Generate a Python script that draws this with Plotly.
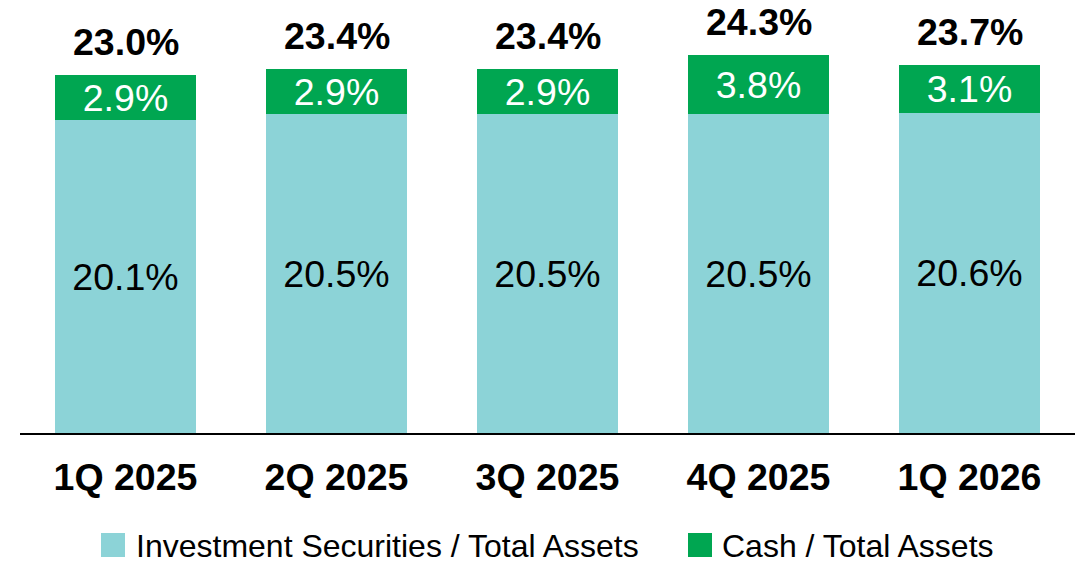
import plotly.graph_objects as go

categories = ["1Q 2025", "2Q 2025", "3Q 2025", "4Q 2025", "1Q 2026"]
investment = [20.1, 20.5, 20.5, 20.5, 20.6]
cash = [2.9, 2.9, 2.9, 3.8, 3.1]
totals = [23.0, 23.4, 23.4, 24.3, 23.7]
series_names = ["Investment Securities / Total Assets", "Cash / Total Assets"]

C_INV = "#8CD3D7"
C_CASH = "#00A651"
FONT = "Liberation Sans, Arial, sans-serif"
FS = 37.5

fig = go.Figure()
fig.add_trace(go.Bar(
    x=categories, y=investment, name=series_names[0], marker_color=C_INV,
    marker_line_width=0,
    text=[f"{v:.1f}%" for v in investment], textposition="inside",
    insidetextanchor="middle", textangle=0, constraintext="none",
    textfont=dict(family=FONT, size=FS, color="black"),
))
fig.add_trace(go.Bar(
    x=categories, y=cash, name=series_names[1], marker_color=C_CASH,
    marker_line_width=0,
    text=[f"{v:.1f}%" for v in cash], textposition="inside",
    insidetextanchor="middle", textangle=0, constraintext="none",
    textfont=dict(family=FONT, size=FS, color="white"),
))

for c, t in zip(categories, totals):
    fig.add_annotation(x=c, y=t, text=f"<b>{t:.1f}%</b>", showarrow=False,
                       yanchor="bottom", yshift=10,
                       font=dict(family=FONT, size=FS, color="black"))

# manual legend
W, H = 1082, 562
ml, mr, mt, mb = 20, 7, 0, 129
pw, ph = W - ml - mr, H - mt - mb

def px_x(x):
    return (x - ml) / pw

def px_y(y):
    return (H - mb - y) / ph

legend_items = [(101, 134, C_INV, series_names[0]), (688, 720, C_CASH, series_names[1])]
for sx, tx, col, name in legend_items:
    fig.add_shape(type="rect", xref="paper", yref="paper",
                  x0=px_x(sx), x1=px_x(sx + 24), y0=px_y(533), y1=px_y(557),
                  fillcolor=col, line_width=0)
    fig.add_annotation(xref="paper", yref="paper", x=px_x(tx), y=px_y(546),
                       xanchor="left", yanchor="middle", text=name, showarrow=False,
                       font=dict(family=FONT, size=32, color="black"))

fig.update_layout(
    width=W, height=H, barmode="stack", bargap=0.332,
    margin=dict(l=ml, r=mr, t=mt, b=mb),
    plot_bgcolor="white", paper_bgcolor="white", showlegend=False,
    uniformtext=dict(minsize=FS, mode="show"),
    font=dict(family=FONT),
)
fig.update_xaxes(showline=True, linecolor="black", linewidth=2, ticks="",
                 tickfont=dict(family=FONT, size=FS, color="black", weight="bold"),
                 ticklabelstandoff=10, automargin=False)
fig.update_yaxes(range=[0, 27.85], visible=False, showgrid=False)

fig.write_html("out.html", config={"displayModeBar": False},
               post_script="document.body.style.margin='0';document.body.style.overflow='hidden';")
